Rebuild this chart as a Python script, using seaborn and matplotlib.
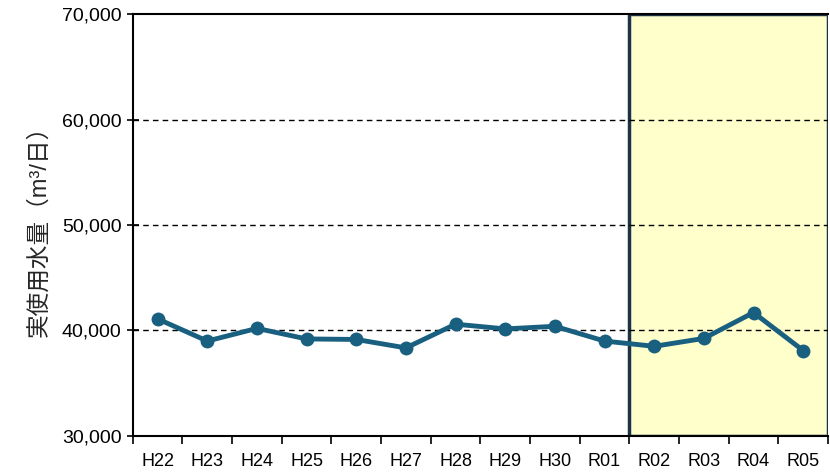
import matplotlib
matplotlib.use("Agg")
import matplotlib.pyplot as plt
import seaborn as sns
import pandas as pd
from matplotlib.ticker import FuncFormatter, MultipleLocator, FixedLocator

categories = ["H22", "H23", "H24", "H25", "H26", "H27", "H28", "H29", "H30",
              "R01", "R02", "R03", "R04", "R05"]
values = [41100, 39000, 40200, 39200, 39150, 38350, 40600, 40150, 40400,
          39000, 38500, 39250, 41700, 38100]
highlight_from = "R02"
y_label = "実使用水量（m³/日）"

sns.set_theme(style="white")
plt.rcParams["font.family"] = ["Liberation Sans", "Noto Sans CJK JP", "DejaVu Sans"]

df = pd.DataFrame({"year": categories, "value": values})

fig = plt.figure(figsize=(8.3, 4.72), dpi=100)
ax = fig.add_axes([0.160, 0.0763, 0.8376, 0.894])

n = len(categories)
start = categories.index(highlight_from)
ax.axvspan(start - 0.5, n - 0.5, facecolor="#ffffcc", edgecolor="#1c3347",
           linewidth=2.5, zorder=1)

for yv in [40000, 50000, 60000]:
    ax.axhline(yv, color="black", linestyle=(0, (4, 3)), linewidth=1.0, zorder=2)

sns.lineplot(data=df, x="year", y="value", ax=ax, color="#195f80",
             linewidth=3.5, marker="o", markersize=10, markeredgewidth=0,
             zorder=3, sort=False)

ax.set_xlim(-0.5, n - 0.5)
ax.set_ylim(30000, 70000)
ax.yaxis.set_major_locator(MultipleLocator(10000))
ax.yaxis.set_major_formatter(FuncFormatter(lambda v, p: f"{int(v):,}"))
ax.set_xticks(range(n))
ax.set_xticklabels(categories)
ax.xaxis.set_minor_locator(FixedLocator([i - 0.5 for i in range(n + 1)]))
ax.tick_params(axis="x", which="major", length=0, labelsize=13, pad=12, colors="black")
ax.tick_params(axis="x", which="minor", length=6, width=1.2, direction="out",
               bottom=True, color="black")
ax.tick_params(axis="y", which="major", length=8, width=1.2, direction="inout",
               left=True, labelsize=14, colors="black", pad=4)

for side in ["left", "bottom", "top"]:
    ax.spines[side].set_color("black")
    ax.spines[side].set_linewidth(1.5)
ax.spines["right"].set_visible(False)

ax.set_xlabel("")
ax.set_ylabel(y_label, fontsize=17, labelpad=8)

fig.savefig("out.png", dpi=100)
